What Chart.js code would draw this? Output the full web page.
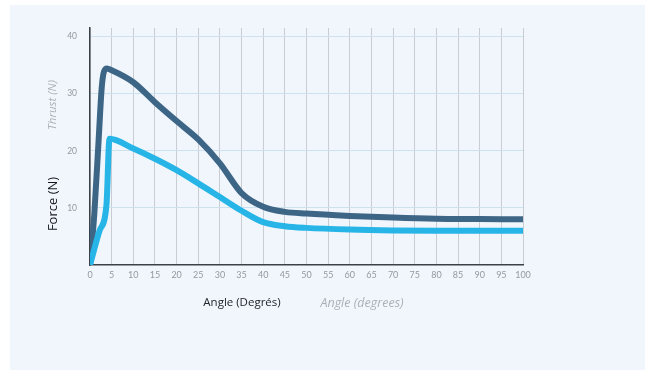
<!DOCTYPE html>
<html>
<head>
<meta charset="utf-8">
<script src="https://cdn.jsdelivr.net/npm/chart.js@4.4.1/dist/chart.umd.min.js"></script>
<style>
  html, body { margin: 0; padding: 0; background: #ffffff; }
  #wrap { width: 653px; height: 374px; position: relative; }
</style>
</head>
<body>
<div id="wrap"><canvas id="chart" width="653" height="374"></canvas></div>
<script>
// Data //

// Angles (degrees) and force values of the dark curve (thrust)
const darkAngles = [0, 1, 2, 2.7, 3.2, 3.9, 5, 10, 15, 20, 25, 30, 35, 40, 45, 50, 60, 70, 80, 90, 100];
const darkForce  = [0, 9, 22, 31, 33.8, 34.4, 34.1, 32.0, 28.5, 25.2, 22.0, 17.8, 12.6, 10.2, 9.3, 9.0, 8.6, 8.3, 8.1, 8.05, 8.0];

// Angles and values of the light curve
const lightAngles = [0, 2.2, 3.8, 4.5, 10, 15, 20, 25, 30, 35, 40, 45, 50, 60, 70, 80, 100];
const lightForce  = [0, 6, 10.5, 22.1, 20.4, 18.6, 16.6, 14.3, 11.9, 9.5, 7.5, 6.8, 6.5, 6.2, 6.05, 6.0, 6.0];

// Tick labels
const xTicks = [0, 5, 10, 15, 20, 25, 30, 35, 40, 45, 50, 55, 60, 65, 70, 75, 80, 85, 90, 95, 100];
const yTicks = [0, 10, 20, 30, 40];

function toPoints(xs, ys) {
    return xs.map((x, i) => ({ x: x, y: ys[i] }));
}

// Background panel + axis titles (two styles on each axis)
const decor = {
    id: 'decor',
    beforeDraw(chart) {
        const ctx = chart.ctx;
        ctx.save();
        ctx.fillStyle = '#ffffff';
        ctx.fillRect(0, 0, chart.width, chart.height);
        ctx.fillStyle = '#f1f6fc';
        ctx.fillRect(10, 5, 635, 365);
        ctx.restore();
    },
    afterDraw(chart) {
        const ctx = chart.ctx;
        ctx.save();
        ctx.textAlign = 'center';
        ctx.textBaseline = 'middle';
        // y titles
        ctx.save();
        ctx.translate(53, 105);
        ctx.rotate(-Math.PI / 2);
        ctx.fillStyle = '#aab0b8';
        ctx.font = 'italic 11.5px "Open Sans"';
        ctx.fillText('Thrust (N)', 0, 0);
        ctx.restore();
        ctx.save();
        ctx.translate(53, 204);
        ctx.rotate(-Math.PI / 2);
        ctx.fillStyle = '#15191d';
        ctx.font = '13px "Open Sans"';
        ctx.fillText('Force (N)', 0, 0);
        ctx.restore();
        // x titles
        ctx.fillStyle = '#22262b';
        ctx.font = '11.5px "Open Sans"';
        ctx.fillText('Angle (Degrés)', 242, 303);
        ctx.fillStyle = '#aab0b8';
        ctx.font = 'italic 12.5px "Open Sans"';
        ctx.fillText('Angle (degrees)', 362, 303);
        ctx.restore();
    }
};

const ctx = document.getElementById('chart').getContext('2d');
const forceChart = new Chart(ctx, {
    type: 'line',
    data: {
        datasets: [{
            label: 'light',
            data: toPoints(lightAngles, lightForce),
            borderColor: '#27b4e6',
            borderWidth: 6,
            pointRadius: 0,
            fill: false,
            cubicInterpolationMode: 'monotone',
            borderCapStyle: 'round',
            borderJoinStyle: 'round'
        }, {
            label: 'dark',
            data: toPoints(darkAngles, darkForce),
            borderColor: '#3d6586',
            borderWidth: 6,
            pointRadius: 0,
            fill: false,
            cubicInterpolationMode: 'monotone',
            borderCapStyle: 'round',
            borderJoinStyle: 'round'
        }]
    },
    options: {
        responsive: false,
        animation: false,
        layout: { padding: { left: 0, right: 130, top: 28, bottom: 0 } },
        plugins: {
            legend: { display: false },
            tooltip: { enabled: false }
        },
        scales: {
            x: {
                type: 'linear',
                min: 0,
                max: 100,
                afterBuildTicks: (scale) => { scale.ticks = xTicks.map(v => ({ value: v })); },
                afterFit: (scale) => { scale.height = 109; },
                grid: { color: '#c9cdd3', lineWidth: 1, drawTicks: false },
                border: { color: '#3b4148', width: 1.5 },
                ticks: { color: '#9399a1', font: { family: 'Lato', size: 9 }, padding: 5, maxRotation: 0 }
            },
            y: {
                type: 'linear',
                min: 0,
                max: 41.5,
                afterBuildTicks: (scale) => { scale.ticks = yTicks.map(v => ({ value: v })); },
                afterFit: (scale) => { scale.width = 90; },
                grid: { color: (c) => c.tick.value === 0 ? 'rgba(0,0,0,0)' : '#cde2ef', lineWidth: 1, drawTicks: false },
                border: { color: '#3b4148', width: 1.5 },
                ticks: { color: '#9399a1', font: { family: 'Lato', size: 8.5 }, padding: 13, callback: (v) => v === 0 ? '' : v }
            }
        }
    },
    plugins: [decor]
});
</script>
</body>
</html>
